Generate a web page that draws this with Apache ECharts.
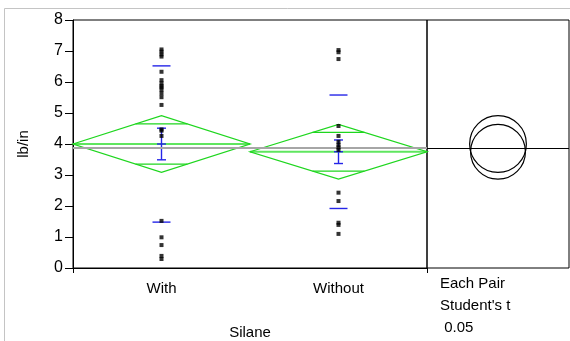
<!DOCTYPE html>
<html>
<head>
<meta charset="utf-8">
<script src="https://cdn.jsdelivr.net/npm/echarts@6/dist/echarts.min.js"></script>
<style>
  html, body { margin: 0; padding: 0; background: #fff; }
  #chart { width: 570px; height: 341px; }
</style>
</head>
<body>
<div id="chart"></div>
<script>
// Peel strength (lb/in) by silane treatment
const categories = ['With', 'Without'];
const withValues = [7.05, 6.98, 6.89, 6.82, 6.33, 6.06, 5.96, 5.87, 5.83, 5.74, 5.63, 5.51, 5.26,
                    4.47, 4.43, 4.26, 1.52, 0.99, 0.74, 0.39, 0.29];
const withoutValues = [7.03, 6.96, 6.74, 4.58, 4.26, 4.07, 3.97, 3.89, 3.81, 2.43, 2.16, 1.46, 1.39, 1.10];
const groupMeans = [4.0, 3.75];
const ciHalfWidth = [0.915, 0.885];   // 95% CI half-width of each mean
const stdError = [0.51, 0.38];
const stdDev = [2.52, 1.83];
const grandMean = 3.87;
const yTickValues = [0, 1, 2, 3, 4, 5, 6, 7, 8];

const FONT = 'Liberation Sans, Arial, sans-serif';
const GREEN = '#1ed61e';
const BLUE = '#2525e8';

const chart = echarts.init(document.getElementById('chart'), null, { renderer: 'canvas' });

// means diamonds: CI diamond, overlap marks, mean line
function diamondItem(params, api) {
  const i = api.value(0);
  const m = api.value(1);
  const ci = api.value(2);
  const c = api.coord([i, m]);
  const half = api.size([1, 0])[0] / 2;
  const top = api.coord([i, m + ci]);
  const bot = api.coord([i, m - ci]);
  const d = ci / Math.SQRT2;
  const w = half * (1 - 1 / Math.SQRT2);
  const up = api.coord([i, m + d])[1];
  const dn = api.coord([i, m - d])[1];
  const line = { stroke: GREEN, lineWidth: 1.3, fill: null };
  return {
    type: 'group',
    children: [
      { type: 'line', shape: { x1: c[0] - half, y1: c[1], x2: c[0] + half, y2: c[1] },
        style: { stroke: '#5fe65f', lineWidth: 2.2 } },
      { type: 'polygon', shape: { points: [[c[0] - half, c[1]], [c[0], top[1]], [c[0] + half, c[1]], [c[0], bot[1]]] },
        style: line },
      { type: 'line', shape: { x1: c[0] - w, y1: up, x2: c[0] + w, y2: up }, style: line },
      { type: 'line', shape: { x1: c[0] - w, y1: dn, x2: c[0] + w, y2: dn }, style: line }
    ]
  };
}

// mean error bars and standard deviation lines
function errorItem(params, api) {
  const i = api.value(0);
  const m = api.value(1);
  const se = api.value(2);
  const sd = api.value(3);
  const x = api.coord([i, m])[0];
  const ym = api.coord([i, m])[1];
  const yt = api.coord([i, m + se])[1];
  const yb = api.coord([i, m - se])[1];
  const ys1 = api.coord([i, m + sd])[1];
  const ys2 = api.coord([i, m - sd])[1];
  const st = { stroke: BLUE, lineWidth: 1.4 };
  const h = (y, hw) => ({ type: 'line', shape: { x1: x - hw, y1: y, x2: x + hw, y2: y }, style: st });
  return {
    type: 'group',
    children: [
      { type: 'line', shape: { x1: x, y1: yt, x2: x, y2: yb }, style: st },
      h(yt, 4.5), h(yb, 4.5), h(ym, 4.5),
      h(ys1, 9), h(ys2, 9)
    ]
  };
}

// comparison circles centred on each mean, radius = CI half-width
function circleItem(params, api) {
  const m = api.value(0);
  const ci = api.value(1);
  const c = api.coord([0.5, m]);
  const r = api.size([0, ci])[1];
  return { type: 'circle', shape: { cx: c[0], cy: c[1], r: r },
           style: { stroke: '#000', lineWidth: 1.2, fill: null } };
}

const option = {
  backgroundColor: '#fff',
  animation: false,
  textStyle: { fontFamily: FONT },
  grid: [
    { left: 73, top: 20, width: 354, height: 248, outerBoundsMode: 'none', containLabel: false,
      show: true, borderColor: '#000', borderWidth: 1, backgroundColor: 'transparent' },
    { left: 427, top: 20, width: 142, height: 248, outerBoundsMode: 'none', containLabel: false,
      show: true, borderColor: '#000', borderWidth: 1, backgroundColor: 'transparent' }
  ],
  xAxis: [
    {
      type: 'category', gridIndex: 0, data: categories, boundaryGap: true,
      name: 'Silane', nameLocation: 'middle', nameGap: 57,
      nameTextStyle: { color: '#000', fontSize: 15, fontFamily: FONT },
      axisLine: { lineStyle: { color: '#000', width: 1 } },
      axisTick: { show: true, length: 5, lineStyle: { color: '#000' }, interval: function (i) { return i > 0; } },
      axisLabel: { color: '#000', fontSize: 15, margin: 13, fontFamily: FONT },
      splitLine: { show: false }
    },
    { type: 'value', gridIndex: 1, min: 0, max: 1, show: false }
  ],
  yAxis: [
    {
      type: 'value', gridIndex: 0, min: yTickValues[0], max: yTickValues[yTickValues.length - 1], interval: 1,
      name: 'lb/in', nameLocation: 'middle', nameGap: 42, nameRotate: 90,
      nameTextStyle: { color: '#000', fontSize: 15, fontFamily: FONT },
      axisLine: { show: true, lineStyle: { color: '#000', width: 1 } },
      axisTick: { show: true, length: 8, lineStyle: { color: '#000' } },
      axisLabel: { color: '#000', fontSize: 16, margin: 10, fontFamily: FONT },
      splitLine: { show: false }
    },
    { type: 'value', gridIndex: 1, min: 0, max: 8, show: false }
  ],
  series: [
    {
      type: 'line', xAxisIndex: 0, yAxisIndex: 0, data: [], silent: true,
      markLine: {
        symbol: 'none', silent: true, label: { show: false },
        lineStyle: { color: '#a6a6a6', width: 2, type: 'solid' },
        data: [{ yAxis: grandMean }]
      }
    },
    {
      type: 'custom', xAxisIndex: 0, yAxisIndex: 0, renderItem: diamondItem, silent: true, z: 3,
      data: categories.map((c, i) => [i, groupMeans[i], ciHalfWidth[i]])
    },
    {
      type: 'custom', xAxisIndex: 0, yAxisIndex: 0, renderItem: errorItem, silent: true, z: 4,
      data: categories.map((c, i) => [i, groupMeans[i], stdError[i], stdDev[i]])
    },
    {
      type: 'scatter', xAxisIndex: 0, yAxisIndex: 0, symbol: 'rect', symbolSize: 4, z: 5,
      itemStyle: { color: '#000' }, silent: true,
      data: withValues.map(v => [0, v]).concat(withoutValues.map(v => [1, v]))
    },
    {
      type: 'custom', xAxisIndex: 1, yAxisIndex: 1, renderItem: circleItem, silent: true,
      data: categories.map((c, i) => [groupMeans[i], ciHalfWidth[i]])
    },
    {
      type: 'line', xAxisIndex: 1, yAxisIndex: 1, data: [], silent: true,
      markLine: {
        symbol: 'none', silent: true, label: { show: false },
        lineStyle: { color: '#000', width: 1.2, type: 'solid' },
        data: [{ yAxis: grandMean }]
      }
    }
  ],
  graphic: [
    { type: 'rect', shape: { x: 4.5, y: 8.5, width: 700, height: 500 },
      style: { stroke: '#c4c4c4', lineWidth: 1, fill: null }, silent: true, z: -1 },
    { type: 'text', left: 440, top: 276, style: { text: 'Each Pair', fill: '#000', font: '15px ' + FONT } },
    { type: 'text', left: 440, top: 298, style: { text: "Student's t", fill: '#000', font: '15px ' + FONT } },
    { type: 'text', left: 440, top: 320, style: { text: ' 0.05', fill: '#000', font: '15px ' + FONT } }
  ]
};

chart.setOption(option);
</script>
</body>
</html>
